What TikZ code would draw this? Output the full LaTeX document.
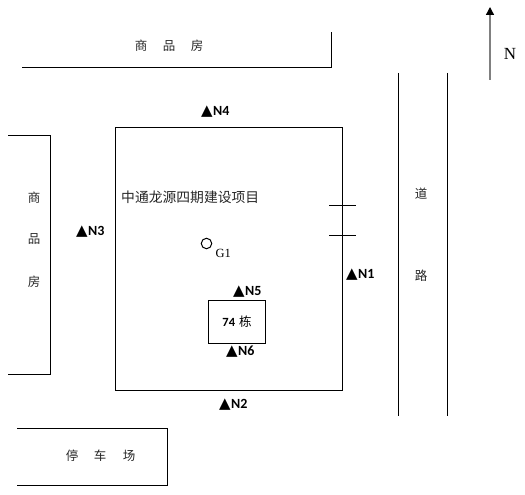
\documentclass[tikz,border=0pt]{standalone}
\usepackage{fontspec}
\setmainfont{Liberation Serif}
\newfontfamily\cjk{Noto Sans CJK SC}
\newfontfamily\lab{Carlito}[BoldFont={Carlito Bold}]
\newfontfamily\sym{DejaVu Sans}
\usetikzlibrary{arrows.meta}
\newcommand{\mk}[1]{{\sym\fontsize{15}{15}\selectfont ▲}\kern0.5pt{\lab\bfseries\fontsize{14}{14}\selectfont #1}}
\tikzset{
  ln/.style={draw=black,line width=1pt},
  cn/.style={font=\cjk\fontsize{12.5}{12.5}\selectfont,inner sep=0pt,text=black!85},
  mark node/.style={inner sep=0pt,anchor=west},
}
\begin{document}
\begin{tikzpicture}[x=1pt,y=-1pt]
\useasboundingbox (0,0) rectangle (525,495);
\coordinate (t1) at (22,68); \coordinate (t2) at (331.5,68); \coordinate (t3) at (331.5,32);
\draw[ln] (t1) -- (t2) -- (t3);
\coordinate (l1) at (8,135); \coordinate (l2) at (50,135); \coordinate (l3) at (50,374); \coordinate (l4) at (8,374);
\draw[ln] (l1) -- (l2) -- (l3) -- (l4);
\node[ln,minimum width=227pt,minimum height=263pt,inner sep=0pt,anchor=north west] (site) at (115,126.5) {};
\coordinate (r1a) at (398.5,73); \coordinate (r1b) at (398.5,416);
\coordinate (r2a) at (447.5,73); \coordinate (r2b) at (447.5,416);
\draw[ln] (r1a) -- (r1b);
\draw[ln] (r2a) -- (r2b);
\coordinate (b1) at (17,428.5); \coordinate (b2) at (167.5,428.5); \coordinate (b3) at (167.5,485); \coordinate (b4) at (17,485);
\draw[ln] (b1) -- (b2) -- (b3) -- (b4);
\node[ln,minimum width=57pt,minimum height=43pt,inner sep=0pt,anchor=north west,font=\lab\bfseries\fontsize{12.5}{12.5}\selectfont] (bld) at (208,300) {\raisebox{0.5pt}{74}\hspace{4pt}{\cjk\mdseries\fontsize{12.5}{12.5}\selectfont 栋}};
\coordinate (k1a) at (329,205.5); \coordinate (k1b) at (356,205.5);
\coordinate (k2a) at (329,235.5); \coordinate (k2b) at (356,235.5);
\draw[ln] (k1a) -- (k1b);
\draw[ln] (k2a) -- (k2b);
\node[ln,circle,minimum size=10.5pt,inner sep=0pt] (g) at (206.5,243.5) {};
\node[anchor=west,inner sep=0pt,font=\fontsize{12.5}{12.5}\selectfont] (gl) at (215.5,253) {G1};
\coordinate (na) at (490,80); \coordinate (nb) at (490,7);
\draw[draw=black!50,line width=1.3pt,-{Triangle[black,length=8pt,width=8pt]}] (na) -- (nb);
\node[inner sep=0pt,font=\fontsize{17}{17}\selectfont] (nl) at (510,54) {N};
\node[cn] (c1) at (141,46) {商};
\node[cn] (c2) at (169,46) {品};
\node[cn] (c3) at (197,46) {房};
\node[cn] (d1) at (34,198) {商};
\node[cn] (d2) at (34,239) {品};
\node[cn] (d3) at (34,282) {房};
\node[cn] (e1) at (421,194) {道};
\node[cn] (e2) at (421,276) {路};
\node[cn] (f1) at (72,456) {停};
\node[cn] (f2) at (100,456) {车};
\node[cn] (f3) at (129,456) {场};
\node[cn,anchor=west,font=\cjk\fontsize{13.8}{13.8}\selectfont] (title) at (121,197.5) {中通龙源四期建设项目};
\node[mark node] (n4) at (201,112) {\mk{N4}};
\node[mark node] (n3) at (76,232) {\mk{N3}};
\node[mark node] (n1) at (346,275) {\mk{N1}};
\node[mark node] (n5) at (233,292) {\mk{N5}};
\node[mark node] (n6) at (226,352) {\mk{N6}};
\node[mark node] (n2) at (219,405) {\mk{N2}};
\end{tikzpicture}
\end{document}
